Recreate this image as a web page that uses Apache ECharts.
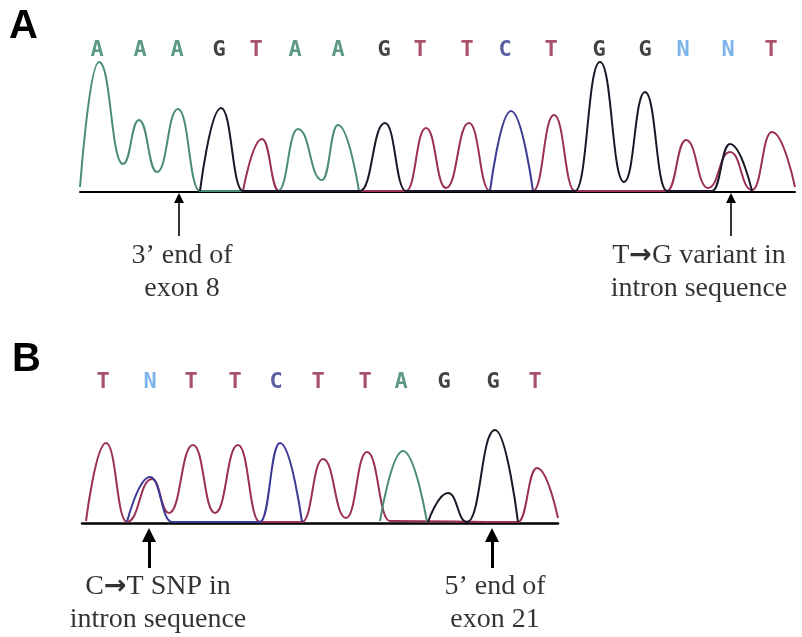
<!DOCTYPE html>
<html>
<head>
<meta charset="utf-8">
<script src="https://cdn.jsdelivr.net/npm/echarts@6/dist/echarts.min.js"></script>
<style>
    html, body { margin: 0; padding: 0; background: #fff; }
    #chart { width: 802px; height: 637px; }
</style>
</head>
<body>
<div id="chart"></div>
<script>
// ---- panel A : base calls (scan position of each call) ----
const basesA = ['A', 'A', 'A', 'G', 'T', 'A', 'A', 'G', 'T', 'T', 'C', 'T', 'G', 'G', 'N', 'N', 'T'];
const basePosA = [17, 60, 97, 139, 176, 215, 258, 304, 340, 387, 425, 471, 519, 565, 603, 648, 691];

// panel A traces, [scan, signal] read at peaks / valleys
const traceA_A = [[0, 5], [19, 130], [43, 28], [59, 72], [77, 20], [98, 83], [120, 1], [198, 1], [218, 63], [242, 12], [258, 67], [279, 1]];
const traceA_T = [[163, 1], [182, 53], [199, 1], [326, 1], [346, 64], [366, 4], [389, 69], [410, 1], [453, 1], [474, 77], [495, 1], [587, 1], [606, 52], [628, 4], [650, 40], [672, 2], [692, 60], [715, 5]];
const traceA_C = [[410, 1], [431, 81], [453, 1]];
const traceA_G = [[120, 1], [141, 84], [163, 1], [280, 1], [305, 69], [326, 1], [495, 1], [520, 130], [544, 10], [565, 100], [587, 1], [632, 1], [650, 48], [672, 1]];

// ---- panel B ----
const basesB = ['T', 'N', 'T', 'T', 'C', 'T', 'T', 'A', 'G', 'G', 'T'];
const basePosB = [21, 68, 109, 153, 194, 236, 283, 319, 362, 411, 453];

const traceB_A = [[298, 2], [321, 72], [345, 1]];
const traceB_T = [[4, 2], [24, 80], [45, 1], [70, 44], [87, 10], [111, 78], [133, 10], [156, 78], [178, 1], [220, 1], [241, 64], [264, 5], [285, 71], [308, 2], [436, 1], [455, 55], [476, 5]];
const traceB_C = [[45, 1], [68, 46], [90, 1], [178, 1], [198, 80], [220, 1]];
const traceB_G = [[346, 1], [366, 30], [385, 1], [413, 93], [436, 1]];

// annotations: arrow scan position, text anchor scan position, text ({arr|} = bold arrow glyph)
const notesA = ['3’ end of\nexon 8', 'T{arr|→}G variant in\nintron sequence'];
const noteArrowA = [99, 651];
const noteTextA = [102, 619];
const notesB = ['C{arr|→}T SNP in\nintron sequence', '5’ end of\nexon 21'];
const noteArrowB = [67, 410];
const noteTextB = [76, 413];

// colours of the four dye channels
const traceColor = { A: '#4b8c78', C: '#3d3a94', G: '#1a1826', T: '#9a3054' };
const letterColor = { A: '#357f64', C: '#34338a', G: '#111111', T: '#922645', N: '#5ba3e6' };

function traceSeries(points, base, idx) {
    return {
        type: 'line',
        name: base,
        data: points,
        xAxisIndex: idx,
        yAxisIndex: idx,
        smooth: 0.5,
        smoothMonotone: 'x',
        showSymbol: false,
        symbol: 'none',
        silent: true,
        lineStyle: { color: traceColor[base], width: 2 },
        z: 3
    };
}

function letterSeries(bases, pos, rowY, idx) {
    return {
        type: 'scatter',
        xAxisIndex: idx,
        yAxisIndex: idx,
        symbolSize: 0,
        silent: true,
        data: bases.map((b, i) => ({ value: [pos[i], rowY], label: { color: letterColor[b] } })),
        label: {
            show: true,
            position: 'inside',
            formatter: (p) => bases[p.dataIndex],
            fontFamily: 'DejaVu Sans Mono',
            fontWeight: 'bold',
            fontSize: 22
        }
    };
}

// text under the trace + an arrow pointing at the baseline
function noteSeries(texts, textX, arrowX, idx, arrowFrom, arrowTo, headSize, lineW) {
    return {
        type: 'scatter',
        xAxisIndex: idx,
        yAxisIndex: idx,
        symbolSize: 0,
        silent: true,
        data: texts.map((t, i) => [textX[i], -80]),
        label: {
            show: true,
            position: 'inside',
            formatter: (p) => texts[p.dataIndex],
            fontFamily: 'Liberation Serif',
            fontSize: 28,
            lineHeight: 33,
            color: '#000',
            rich: {
                arr: { fontFamily: 'DejaVu Sans', fontWeight: 'bold', fontSize: 27, color: '#000', lineHeight: 33 }
            }
        },
        markLine: {
            silent: true,
            symbol: ['none', 'triangle'],
            symbolSize: headSize,
            label: { show: false },
            lineStyle: { color: '#000', width: lineW, type: 'solid' },
            data: arrowX.map((x) => [{ coord: [x, arrowFrom] }, { coord: [x, arrowTo] }])
        }
    };
}

function baseAxis(max, idx, lineW) {
    return {
        type: 'value', min: 0, max: max, gridIndex: idx,
        axisLine: { show: true, onZero: true, lineStyle: { color: '#000', width: lineW } },
        axisTick: { show: false }, axisLabel: { show: false }, splitLine: { show: false }
    };
}

let myChart = echarts.init(document.getElementById('chart'));
let option = {
    animation: false,
    backgroundColor: '#fff',
    grid: [
        { left: 80, right: 7, top: 37, bottom: 335 },
        { left: 82, right: 244, top: 368, bottom: 2 }
    ],
    xAxis: [baseAxis(715, 0, 2), baseAxis(476, 1, 2.5)],
    yAxis: [
        { type: 'value', min: -110, max: 155, show: false, gridIndex: 0 },
        { type: 'value', min: -112, max: 155, show: false, gridIndex: 1 }
    ],
    graphic: [
        { type: 'text', left: 9, top: 7, style: { text: 'A', font: 'bold 40px "Liberation Sans"', fill: '#000' } },
        { type: 'text', left: 12, top: 340, style: { text: 'B', font: 'bold 40px "Liberation Sans"', fill: '#000' } }
    ],
    series: [
        traceSeries(traceA_A, 'A', 0),
        traceSeries(traceA_T, 'T', 0),
        traceSeries(traceA_C, 'C', 0),
        traceSeries(traceA_G, 'G', 0),
        letterSeries(basesA, basePosA, 142, 0),
        noteSeries(notesA, noteTextA, noteArrowA, 0, -44, -6, 10, 1.6),
        traceSeries(traceB_T, 'T', 1),
        traceSeries(traceB_A, 'A', 1),
        traceSeries(traceB_C, 'C', 1),
        traceSeries(traceB_G, 'G', 1),
        letterSeries(basesB, basePosB, 141, 1),
        noteSeries(notesB, noteTextB, noteArrowB, 1, -45, -12, 14, 3)
    ]
};
myChart.setOption(option);
</script>
</body>
</html>
